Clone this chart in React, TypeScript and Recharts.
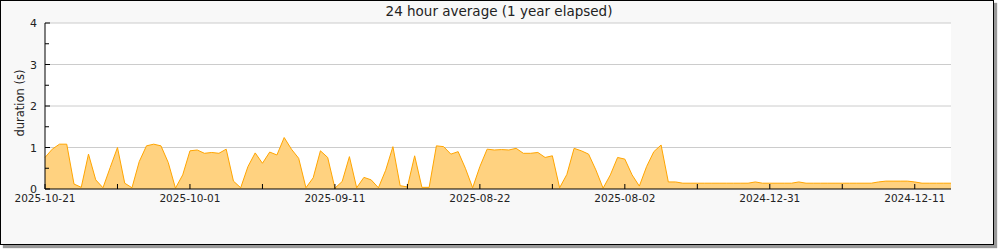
import React from 'react';
import { AreaChart, Area, XAxis, YAxis, CartesianGrid } from 'recharts';

const durations = [
  0.76, 0.96, 1.08, 1.08, 0.12, 0.04, 0.84, 0.22, 0.03, 0.52,
  1.0, 0.14, 0.03, 0.66, 1.04, 1.08, 1.04, 0.64, 0.02, 0.34,
  0.92, 0.94, 0.86, 0.88, 0.86, 0.96, 0.19, 0.03, 0.54, 0.87,
  0.62, 0.89, 0.82, 1.24, 0.96, 0.74, 0.03, 0.27, 0.92, 0.76,
  0.02, 0.18, 0.78, 0.03, 0.28, 0.22, 0.03, 0.45, 1.02, 0.08,
  0.05, 0.8, 0.04, 0.04, 1.04, 1.02, 0.84, 0.9, 0.5, 0.03,
  0.54, 0.96, 0.94, 0.95, 0.94, 0.98, 0.86, 0.86, 0.88, 0.76,
  0.8, 0.03, 0.35, 0.98, 0.92, 0.84, 0.46, 0.02, 0.34, 0.76,
  0.72, 0.34, 0.07, 0.54, 0.9, 1.06, 0.17, 0.17, 0.14, 0.14,
  0.14, 0.14, 0.14, 0.14, 0.14, 0.14, 0.14, 0.14, 0.17, 0.14,
  0.14, 0.14, 0.14, 0.14, 0.17, 0.14, 0.14, 0.14, 0.14, 0.14,
  0.14, 0.14, 0.14, 0.14, 0.14, 0.17, 0.19, 0.19, 0.19, 0.19,
  0.17, 0.14, 0.14, 0.14, 0.14, 0.14,
];

const xTickIndexes = [0, 10, 20, 30, 40, 50, 60, 70, 80, 90, 100, 110, 120];
const xTickLabels: Record<number, string> = {
  0: '2025-10-21',
  20: '2025-10-01',
  40: '2025-09-11',
  60: '2025-08-22',
  80: '2025-08-02',
  100: '2024-12-31',
  120: '2024-12-11',
};
const yTicks = [0, 0.5, 1, 1.5, 2, 2.5, 3, 3.5, 4];
const gridValues = [1, 2, 3, 4];

const TITLE = '24 hour average (1 year elapsed)';
const Y_TITLE = 'duration (s)';
const FONT = "'DejaVu Sans', sans-serif";

const data = durations.map((v, i) => ({ i, v }));

const XTick = (props: any) => {
  const { x, y, payload } = props;
  const label = xTickLabels[payload.value];
  return (
    <g>
      <line x1={x} x2={x} y1={y} y2={y - 5} stroke="#000" />
      {label ? (
        <text x={x} y={y + 13} textAnchor="middle" fontSize={10.5} fill="#222" fontFamily={FONT}>
          {label}
        </text>
      ) : null}
    </g>
  );
};

const YTick = (props: any) => {
  const { x, y, payload } = props;
  const v = payload.value;
  const isInt = Number.isInteger(v);
  return (
    <g>
      <line x1={x} x2={x + (isInt ? 5 : 4)} y1={y} y2={y} stroke="#000" />
      {isInt ? (
        <text x={x - 8} y={y + 4} textAnchor="end" fontSize={11} fill="#222" fontFamily={FONT}>
          {v}
        </text>
      ) : null}
    </g>
  );
};

const YTitle = () => (
  <text
    x={20}
    y={103}
    transform="rotate(-90, 20, 103)"
    textAnchor="middle"
    dominantBaseline="central"
    fontSize={11.5}
    fill="#222"
    fontFamily={FONT}
  >
    {Y_TITLE}
  </text>
);

export default function App() {
  return (
    <div style={{ position: 'absolute', left: 0, top: 0, width: 1000, height: 250 }}>
      <div
        style={{
          position: 'absolute',
          left: 0,
          top: 0,
          width: 994,
          height: 245,
          boxSizing: 'border-box',
          border: '1px solid #000',
          background: '#f8f8f8',
          boxShadow: '3px 3px 1px #999',
        }}
      />
      <div
        style={{
          position: 'absolute',
          left: 0,
          top: 3,
          width: 998,
          textAlign: 'center',
          fontFamily: FONT,
          fontSize: 13.5,
          color: '#222',
          lineHeight: '16px',
        }}
      >
        {TITLE}
      </div>
      <div style={{ position: 'absolute', left: 0, top: 0 }}>
        <AreaChart
          width={1000}
          height={250}
          data={data}
          margin={{ top: 23, right: 49, bottom: 31, left: 0 }}
        >
          <CartesianGrid
            vertical={false}
            horizontalValues={gridValues}
            stroke="#cccccc"
            fill="#ffffff"
            fillOpacity={1}
          />
          <XAxis
            dataKey="i"
            type="category"
            ticks={xTickIndexes}
            interval={0}
            height={30}
            tickSize={0}
            tickMargin={0}
            tickLine={false}
            axisLine={{ stroke: '#000' }}
            tick={<XTick />}
          />
          <YAxis
            domain={[0, 4]}
            ticks={yTicks}
            interval={0}
            width={45}
            tickSize={0}
            tickMargin={0}
            tickLine={false}
            axisLine={{ stroke: '#000' }}
            tick={<YTick />}
            label={{ content: <YTitle /> }}
          />
          <Area
            type="linear"
            dataKey="v"
            stroke="#ffa500"
            strokeWidth={1}
            fill="#ffd280"
            fillOpacity={1}
            isAnimationActive={false}
            dot={false}
            activeDot={false}
          />
        </AreaChart>
      </div>
    </div>
  );
}
